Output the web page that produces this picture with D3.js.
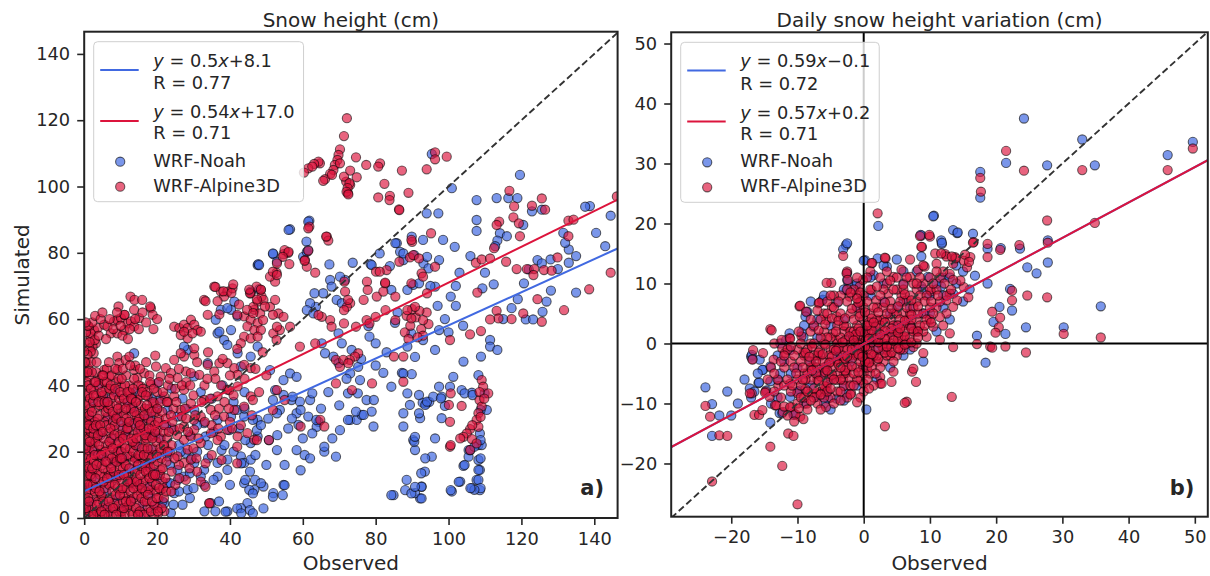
<!DOCTYPE html>
<html><head><meta charset="utf-8">
<script src="https://cdn.jsdelivr.net/npm/d3@7"></script>
<style>body{margin:0;background:#fff}svg{display:block;font-family:"DejaVu Sans",sans-serif}</style>
</head><body><svg id="c" width="1210" height="576"></svg>
<script>
// ---------- Panel a: snow height (cm) ----------
const aNoahMain=[[5.5,34.6],[9.1,30.6],[13.7,28.6],[18.3,30.6],[22.9,32.6],[25.6,30.6],[30.2,32.6],[32.9,28.6],[36.6,29.6],[40.3,30.6],[43.9,30.6],[47.6,29.6],[14.6,21.6],[18.3,20.6],[22.9,18.6],[25.6,14.5],[27.4,12.5],[30.2,16.6],[32.9,14.5],[36.6,16.6],[39.3,17.6],[43,18.6],[45.7,22.6],[47.6,24.6],[22.9,10.5],[24.7,7.5],[28.4,8.5],[32,12.5],[36.6,12.5],[39.3,14.5],[43.9,16.6],[45.7,17.6],[43.9,10.5],[46.7,8.5],[44.8,4.5],[43,3],[39.3,2],[34.8,4.5],[22,4.5],[19.2,3.5],[23.8,1.5],[12.8,5.5],[9.1,12.5],[5.5,18.6],[2.7,26.6],[0.9,21.6],
[36.6,55.7],[30.2,42.7],[33.9,46.7],[42.1,49.7],[45.7,48.7],[47.6,51.7],[13.7,49.7],[20.1,40.7],[28.4,50.7],[27.4,51.7],[38.4,53.7],[37.5,62.8],[40.3,62.8],[42.1,60.8],[39.3,63.3],[41.2,65.3],[36.1,59.8],[37.1,56.2],[47.6,76.3],[45.7,68.3],[48,69],[40.3,56.7],[39.3,52.2],[43,45.7],
[1.5,30],[3,12],[6,8],[8,24],[11,18],[12,35],[15,10],[17,26],[19,14],[20,33],[2,5],[4,40],[7,2],[10,28],[16,4],[21,24],[3,20],[13,15],[18,7],[6,36],[0.5,9],[1,3],[9,6],[14,38],[24,27],[26,22],[29,25],[31,20],[34,22],[27,4],[30,9],[33,2],[35,36],[38,40],[41,35],[44,38],
[61.8,89.7],[56.5,87.1],[51.9,79.6],[47.8,76.6],[60.1,78.8],[61.1,80.3],[67.3,76.5],[73.7,77],[78.6,76.6],[83.9,76],[71.6,71.8],[70.2,72.8],[85.8,82.9],[86.7,80.3],[87.6,77.8],[89.9,84.9],[90.6,79.3],[93.1,76.8],[90.3,70.3],[94.5,75.3],[95.4,109.8],[94,91.9],
[78,57.9],[78.3,54.7],[82.1,43.8],[85.3,58.9],[87.2,43.8],[89.9,43.4],[67.5,71.8],[67.9,69.8],[69.3,65.8],[70.7,64.8],[65.6,67.8],[63.2,67.8],[63.6,63.7],[62,64.8],[61.1,62.7],[62.9,61.7],[65.2,52.7],[66.1,49.7],[69.8,55.7],[70.7,52.7],[68.4,48.7],[69.8,46.7],[73.4,50.7],[73,43.6],[75.2,45.6],[75.7,41.6],[77.5,35.6],[78.9,32.1],[73,29.6],[74.8,29.6],[76.2,31.1],[79.4,27.6],
[54.7,41.6],[51,44.6],[56.5,43.6],[58.3,42.6],[52.4,38.6],[54.7,37.1],[56.9,35.6],[59.2,35.1],[62,35.6],[53.7,32.6],[58.3,31.6],[61.5,30.6],[64.3,29],[63.8,27.5],[58.8,28.1],[56,27],
[46.9,11.5],[49.2,9.5],[51.9,7.5],[54.7,10],[49.2,2.9],[45.5,2.4],[88.5,11.5],[90.8,20.5],[90.3,23.5],[92.6,9.5],[92.2,5.9],[84.9,6.9],[90.8,7.5],[93.5,14],[87.6,31.6],[89.4,34.1],[92.2,30.1],
[119.6,103.5],[100.9,99.5],[97.2,91.9],[107.7,95.9],[113.2,96.5],[116.4,96.5],[118.9,96.5],[122.9,92.5],[125.6,93],[138.8,94.1],[144.5,91.2],[107.7,89.9],[107.7,86.6],[114.1,85.9],[113.4,83.7],[112.8,82],[120.5,88.4],[131.5,86],[133,81],[133,77],[124.4,77.8],[125.6,76.8],[130,75.1],[109.3,69.3],[112.4,70.5],[120.7,70.8],[128.1,68.6],[126.9,65.3],[125.8,62.2],[117.3,63.3],[121.2,59.9],[123.2,59.9],[111.4,53.7],[111.4,51.7],[113.4,50.7],[108.9,48.7],[104.1,47.2],
[101.3,42.6],[100.4,39.6],[103.6,38.6],[106.4,37.8],[108.2,43.1],[98.1,36.6],[99,33.8],[93.8,34.5],[94.7,35],[92.9,34.8],[98.1,30.1],[96.3,24],[95.4,18.5],[92.6,9.4],[92.6,5.9],[105.5,20.5],[108.2,22],[109.1,22],[108.2,17.5],[108.6,14.5],[107.7,11.5],[106.4,9],[104.1,15.7],[103.2,11],[100.9,8],[108.6,8.4],[110.5,32.6],[108.6,25.5],
[56.1,86.9],[61.5,89.4],[61,83.4],[61.5,80.8],[51.8,79.8],[48,76.3],[52.9,77.3],[85.4,82.9],[87.6,79.8],[93,83.9],[94.1,78.8],[97.4,77.8],[98.5,83.9],[101.7,81.8],[81.1,79.8],[78.9,76.3],[84.3,68.8],[88.7,68.8],[91.9,70.8],[96.3,69.8],[89.8,55.7],[93,53.7],[96.3,50.7],[88.7,51.7],[90.8,48.6],[87.6,43.6],[84.3,39.6],[80,52.7],[97.4,56.7],[100.6,66.8],
[38.8,1.9],[42,2.9],[43.1,1.4],[46.3,1.4],[44.2,11.5],[43.1,16.5],[45.3,8.5],[46.3,7.4],[48.5,10.5],[51.8,6.4],[54.5,6.9],[55,9.9],[59.4,14.4],[60.5,19],[65.9,20],[69.1,18.5],[68.1,24],[70.2,26.5],[72.4,29.6],[74.6,32.1],[76.7,31.1],[79.5,35.6],[75.1,37.6],[72.4,37.6],[65.9,21.5],[63.7,29.6],[62.6,25.5],[58.3,20.5],[52.9,20.5],[50.7,23.5],[47.4,26.5],[44.2,23.5],[37.7,20.5],[35.5,11.5],[29,13.5],[25.7,11.5],[23.6,10.5],[27.9,19.5],[33.3,24.6],[39.8,26.5],[46.3,29.6],[52.9,31.6],[59.4,32.6],[62.6,37.6],[57.2,36.6],[51.8,35.6],[42,32.6],
[84.3,6.9],[88.1,8.4],[89.8,7.4],[90.8,9.4],[92.5,13.5],[93.6,18],[90.6,23],[90.8,24.5],[87.6,27.6],[91.9,31.6],[93.6,34.1],[94.1,35.1],[95.8,36.6],[97.9,36.1],[97.4,39.6],[100.6,8.4],[102.8,10.9],[104.4,16],[105.5,18.5],[106,20.5],[107.1,21.5],[108.8,23.5],[108.8,18],[108.2,14.5],[108.2,11.5],[108.8,9],[107.1,8.5],[106,9],[104.4,37.6],[106.6,37.1],[108.8,32.6],[109.9,37.6],[88.7,37.6],[91.9,37.1],
[137.5,93.9],[135,79],[140.5,86],[143,82],[132,83],[128,78],[122,75],[119,66],[115,60],[104,58],[100,56],[97,64],[135,68],[116,85],[103,74],[106,79],[110,74],[102,70],[95,70],[99,60],[102,64]];
const aNoahExtra=[[0.5,1],[1.5,14],[2.5,35],[3.5,9],[4.5,25],[5.5,4],[6.5,30],[7.5,12],[8.5,38],[9.5,20],[10.5,3],[11.5,26],[12.5,11],[13.5,33],[14.5,18],[15.5,1],[16.5,30],[17.5,16],[18.5,36],[19.5,25],[20.5,12],[21.5,5],[22.5,28],[23.5,16],[24.5,4],[26.5,20],[28,33],[29.5,18],[31,28],[33,10],[34,18],[35.5,26],[37,5],[38.5,22],[40,10],[41,20],[42.5,27],[44,33],[45.5,14],[47,19],[48.5,28],[50,16],[50.5,30],[53,25],[55,16],[57,30],[60,24],[62,18],[65,33],[67,38],[70,34],[72,42],[76,48],[80,46],[83,50],[86,62],[21,36],[24,39],[27,36],[32,38],[26,8],[29,6],[36,2],[18,10],[15,27],[8,17]];
const aNoah=aNoahMain.concat(aNoahExtra);

const aAlpMain=[[1.8,54.7],[2.7,56.7],[3.7,57.3],[3.2,52.7],[2.3,51.7],[1.4,51.2],[5.5,58.3],[6.4,57.8],[8.2,59.3],[9.1,59.8],[10.1,60.3],[11,61.3],[11.9,58.7],[12.8,59.3],[13.7,62.8],[13.7,57.8],[15.1,60.3],[18.3,63.3],[18.8,61.3],[7.3,55.7],[9.1,55.7],[11,56.7],[2.6,49.7],[1.8,50.2],[0.9,49.2],[0,50.2],
[24.7,57.7],[26.1,57.3],[27.4,58.3],[28.4,57.3],[29.3,59.8],[30.2,58.3],[31.1,56.7],[32,56.2],[26.5,55.2],[28.4,54.2],[29.7,55.7],[27.4,56.2],
[32.9,65.8],[33.9,61.3],[35.7,69.8],[37.5,68.3],[39.3,68.3],[40.7,69.3],[38.4,66.8],
[43.9,60.8],[45.7,59.8],[47.6,58.8],[44.8,57.8],[46.7,56.7],[43.9,54.7],[43,52.7],[45.7,54.2],[48.5,56.7],[47.6,54.7],[45.7,67.8],[48.5,68.8],[47.6,65.3],[46.7,62.8],
[0,43.2],[1.4,42.7],[4.1,41.7],[5.5,44.7],[6.9,42.7],[9.1,48.7],[9.6,46.7],[9.1,44.7],[11.4,47.7],[12.4,48.7],[13.7,44.7],[14.6,42.2],[15.6,39.7],[16.5,43.7],[18.3,40.2],[19.7,45.7],[21,42.7],[22.4,45.2],[23.8,43.7],[25.6,42.2],[27.9,44.2],[29.3,43.7],[31.6,43.2],[33.9,46.2],[35.7,44.2],[37.1,46.7],[39.3,46.7],[41.2,45.2],[42.1,43.2],[43.9,46.2],[45.7,45.2],
[27.4,48.7],[30.2,49.2],[24.7,47.7],[26.5,49.7],[30.2,51.2],
[0,39.7],[0.9,37.7],[2.7,38.7],[4.6,36.7],[7.3,38.7],[10.1,39.7],[12.8,37.7],[14.6,35.6],[17.4,36.7],[19.2,34.6],[22,36.7],[11,32.6],[15.6,32.1],[5.5,33.6],
[0,30.6],[1.8,29.6],[3.7,27.6],[6.4,30.6],[8.2,26.6],[10.1,24.6],[11.9,28.6],[13.7,22.6],[15.6,26.6],[18.3,24.6],[20.1,26.6],[22,21.6],[0,24.6],[2.3,22.6],[4.6,20.6],[7.3,21.6],[9.1,17.6],[11,16.6],[12.8,18.6],[14.6,14.5],[17.4,16.6],[19.2,12.5],[21,14.5],[0.9,16.6],[2.7,14.5],[5.5,12.5],[7.3,10.5],[10.1,8.5],[12.8,10.5],[15.6,7.5],[18.3,8.5],[1.8,8.5],[4.6,6.5],[8.2,4.5],[11.9,3.5],[14.6,1.5],[0,2.5],[3.7,0.5],[6.4,1.5],[10.1,0.5],[17.4,1.5],[20.1,3],[21,8.5],
[0.5,35],[1,28],[1.5,20],[2,12],[2.5,6],[3,33],[3.5,24],[4,17],[4.5,10],[5,3],[5.5,29],[6,22],[6.5,14],[7,6],[7.5,36],[8,31],[8.5,19],[9,12],[9.5,2],[10,34],[10.5,27],[11,22],[11.5,13],[12,6],[12.5,40],[13,31],[13.5,25],[14,18],[14.5,9],[15,4],[15.5,37],[16,29],[16.5,21],[17,12],[17.5,3],[18,33],[18.5,27],[19,19],[19.5,8],[20,38],[20.5,30],[21,20],[21.5,11],[22,2],[0.3,14],[0.7,41],[1.2,45],[3.3,44],[6.2,45],[8.8,41],[11.5,43],[14,46],[17,47],[19.5,49],[0.2,6],[2.8,1],[5.8,39],[7.8,16],[10.8,7],[12.8,2],[16.2,18],[13.2,34],[4.2,31],[0.4,19],[1.6,33],[6.8,26],
[32,11],[34.3,4.5],[27.4,16.6],[29.3,17.6],[27.4,23.6],[29.3,24.6],[24.7,26.6],[27.4,27.6],[30.2,26.6],[32,22.6],[34.8,25.6],[37.5,24.6],[39.3,26.6],[42.1,24.6],[44.8,25.6],[46.7,23.6],[25.6,18.6],[28.4,20.6],
[32,30.6],[34.8,32.6],[38.4,30.6],[41.2,32.6],[43.9,33.6],[45.7,36.7],[39.3,38.7],[42.1,39.7],[36.6,36.7],[32.9,35.6],[29.3,34.6],[26.5,32.6],[24.7,36.7],[27.4,38.7],
[72.1,120.6],[71.3,115.2],[70.2,111.2],[69.8,109.5],[69.5,108],[68.8,106.5],[68.4,105],[67.5,103.8],[66.1,102.2],[65.6,101.7],[64.7,107],[64.3,107.5],[63.1,106.8],[61.5,105.5],[60.3,104.2],[62.6,106],[68,103.5],[70.2,107],[72.4,98],[73,100.5],[71.9,101.5],[71.3,103],
[74.6,108.8],[73,104.8],[74.8,102.8],[72.8,101],[72.3,99.5],[72,98.4],[72.5,97.6],[77.4,106.5],[81.2,107],[80.7,106],[87.2,104.8],[94,105.2],[82.4,100.8],[80.7,96.7],[83.9,97.2],[83.8,95.9],[89,98.1],[86.4,93.1],
[61.8,87.9],[66.6,84.9],[67,83.7],[54.7,79.6],[56,80],[56.3,76.6],[52.8,74],[52.4,71.3],[51,72.8],[61.5,80.6],[60.6,77.8],[61.1,75.8],[63.4,74],[80.1,74.3],[82.6,70.8],[77.6,71.3],[83,74.8],[71.4,71.3],[71.6,68.3],[89.4,78.6],[90.3,79.3],[92.6,73.8],[90,83.3],
[88,56],[89.5,58],[91,60.5],[92.5,57],[94,62],[90,63],[88.5,61],[93,55],[91.5,54.5],[94.5,58.5],[89,54],[92,62.5],
[77.5,59.7],[73,64.8],[72.1,63.7],[67.5,59.7],[67.9,57.7],[65.2,60.7],[64.3,61.2],[80.3,66.8],[82.1,68.3],[82.6,71],[75.2,49.7],[74.3,48.7],[72.9,47.7],[85,48.7],[87.6,48.7],[63.4,52.7],[59.2,51.7],[69.1,47.7],[70.2,45.6],[71.1,47.7],[72.5,46.7],
[45.5,67.8],[47.3,69.8],[48.7,66.8],[46.4,63.7],[48.3,61.7],[49.2,65.8],[51,63.7],[52.4,65.8],[53.3,61.7],[54.7,60.7],[56.5,57.7],[53.7,56.7],[51.9,55.7],[52.8,53.7],
[96.3,110.3],[96.3,108.2],[99.5,109],[116.7,98.7],[125.6,96.4],[122.9,94.2],[113.9,89.4],[113.2,88.4],[112.5,81.4],[117.8,90.7],[119.3,88.9],[119.6,85],[132.9,89.7],[132.9,85],[129.9,78.6],[126.2,74.8],[128.3,74.6],[118.7,75.1],[121.5,75.1],[123.5,75.1],[123.3,73.3],[115.8,77.3],[107.5,77],[109.1,78],[111.4,78.3],[107.9,68],[144.5,74],[138.6,69],[124.4,66],[131.7,62.7],[120.5,61.7],[117.3,60],[125.6,59.2],[113.2,62.5],[113.7,60.2],[111.4,59.9],[108.9,56.4],[105.9,55.4],[100.4,53.7],[118,94],[126.5,93],[134.3,90],[146.2,97],
[109.1,41.6],[109.5,39.6],[110.9,37.6],[108.5,35.6],[109.1,33.6],[108.2,31.6],[107.7,29.6],[108.2,27.5],[105.9,26.8],[105,25.5],[104.1,24.5],[106.4,23.8],[107.7,22.5],[103.2,24],[105.9,20.5],[108.5,38],[109.8,36],[108.8,30.5],[106.5,28],[100.4,21.5],[103.6,33.8],[100.4,29],[100.6,37.6],[100.1,34.1],[100.6,22],
[61.5,87.4],[66.4,84.9],[55,80.8],[56.1,80.3],[54.5,78.8],[52.9,76.8],[51.8,74.3],[52.9,73.3],[60.5,77.6],[36,69.7],[38.2,68.4],[40.4,67.9],[36.6,65.4],[33.3,65.4],[37.1,61.4],[40.9,70.5],[45.3,68.9],[48.5,68.9],[47.4,65.9],[42.5,64.4],[44.7,62.8],[42,61.3],[46.4,61.8],[49.6,63.8],[49.1,59.7],[51.8,61.3],[52.9,57.7],[9.4,63.8],[12.7,66.8],[13.8,65.8],[15.9,65.8],[18.1,63.8],[11.1,61.3],[1.3,57.7],[1.8,55.7],[2.9,53.7],
[86.5,92.9],[95.2,85.9],[89.8,83.9],[91.9,78.3],[96.3,75.8],[86.5,77.3],[93,72.8],[89.8,70.8],[94.1,67.8],[90.8,63.7],[88.7,62.7],[89.8,60.2],[93,59.7],[85.4,59.7],[82.7,62.7],[80,60.7],[78.3,58.7],[74.6,57.7],[71.3,58.7],[72.4,65.8],[77.8,68.8],[76.7,65.8],[71.3,62.7],[81.1,74.3],[85.4,66.8],
[34.4,4.4],[33.3,9.4],[27.9,11.5],[33.3,16.5],[37.7,17.5],[42,16.5],[47.4,23.5],[50.7,23.5],[51.8,32.6],[55,35.6],[59.4,27.6],[64.8,29.6],[65.9,27.6],[69.1,40.6],[73.5,38.6],[79,40.6],[30.1,29.6],[26.8,30.6],[36.6,23.5],[42,21.5],[46.3,35.6],[39.8,38.6],[52.9,38.6],[20.3,1.4],[19.2,0.5],[87.6,41.1]];
const aAlpDense=[[0.2,1],[0.4,4],[0.6,8],[0.3,11],[0.8,13],[0.5,16],[0.2,18],[0.7,22],[0.3,26],[0.6,29],[0.2,32],[0.8,37],[0.4,44],[0.6,47],[0.1,53],
[1.4,2],[1.1,6],[1.7,10],[1.3,15],[1.9,18],[1.2,24],[1.8,26],[1.4,31],[1.6,36],[1.1,40],[1.9,47],
[2.3,3],[2.9,8],[2.4,10],[2.7,17],[2.2,21],[2.6,25],[2.9,29],[2.4,35],[2.8,41],[2.1,44],
[3.4,2],[3.8,5],[3.2,9],[3.6,14],[3.9,19],[3.1,23],[3.7,30],[3.3,37],[3.8,40],[3.4,47],
[4.3,1],[4.8,7],[4.4,13],[4.9,16],[4.1,22],[4.6,26],[4.3,34],[4.9,43],
[5.2,5],[5.7,9],[5.3,15],[5.8,20],[5.4,24],[5.9,32],[5.1,37],[5.6,41],
[6.4,3],[6.9,10],[6.3,17],[6.7,19],[6.1,28],[6.6,33],[6.2,41],[6.8,47],
[7.3,1],[7.7,8],[7.2,13],[7.6,18],[7.4,24],[7.9,29],[7.1,34],[7.5,43],
[8.3,3],[8.6,7],[8.1,14],[8.7,22],[8.4,28],[8.9,34],[8.2,37],[8.6,45],
[9.4,4],[9.2,9],[9.7,15],[9.3,20],[9.8,25],[9.1,31],[9.6,36],[9.4,42],
[10.3,2],[10.7,5],[10.2,11],[10.6,15],[10.1,20],[10.8,31],[10.4,37],[10.6,45],
[11.2,1],[11.7,9],[11.4,16],[11.8,19],[11.3,25],[11.6,30],[11.9,35],[11.2,40],
[12.3,4],[12.7,8],[12.2,13],[12.6,21],[12.1,27],[12.8,33],[12.4,38],[12.6,46],
[13.3,1],[13.6,6],[13.2,11],[13.8,17],[13.4,20],[13.9,28],[13.1,36],[13.7,42],
[14.2,3],[14.6,7],[14.3,12],[14.8,16],[14.1,22],[14.7,26],[14.4,31],[14.9,40],
[15.3,2],[15.7,6],[15.2,10],[15.9,15],[15.4,19],[15.8,24],[15.1,30],[15.6,34],[15.3,45],
[16.4,1],[16.8,8],[16.2,11],[16.6,16],[16.9,23],[16.3,27],[16.7,33],[16.1,39],
[17.2,5],[17.7,9],[17.4,14],[17.8,19],[17.1,24],[17.6,30],[17.3,38],[17.9,43],
[18.3,2],[18.7,11],[18.2,15],[18.8,21],[18.4,29],[18.9,35],[18.1,41],
[19.3,4],[19.7,10],[19.2,16],[19.8,23],[19.4,28],[19.6,32],[19.1,39],
[20.4,6],[20.8,13],[20.2,17],[20.7,24],[20.3,29],[20.9,35],[20.5,41],
[21.3,3],[21.7,9],[21.2,18],[21.8,26],[21.4,32],[21.6,38],
[22.3,12],[22.6,17],[22.8,24],[22.4,30],[23,40],[23.5,20],[24,14],[24.5,33],[25,10],[25.5,25],
[23,35],[25,39],[26,45],[28,41],[30,37],[31,47],[33,40],[34,50],[35,28],[36,42],[37,33],[38,48],[40,29],[40,43],[41,37],[42,51],[43,28],[44,42],[46,31],[47,45],[48,38],[49,50],[50,43],[22,28],[24,22],[26,16],[28,30],[30,21],[31,14],[35,19],
[0.5,56],[1,58],[1.5,53],[2.2,59],[3,61],[4,55],[4.5,60],[5,62],[6,54],[7,60],[8,57],[9,62],[10,58],[10.5,55],[12,54],[12.5,57],[14,60],[15,57],[16,62],[17,59],[19,57],[20,60],[0.2,47],[0.4,59]];
const aAlpDense2=[[0.5,3],[0.9,10],[0.4,21],[0.9,27],[0.3,34],[0.9,44],[1.3,5],[1.7,13],[1.5,23],[1.3,28],[1.8,39],[2.5,1],[2.2,15],[2.9,19],[2.5,27],[2.1,32],[2.6,37],[3.5,4],[3.1,12],[3.4,16],[3.8,25],[3.2,28],[3.9,35],[3.1,41],[4.7,2],[4.2,8],[4.7,19],[4.4,28],[4.8,38],[5.6,1],[5.3,11],[5.9,17],[5.1,26],[5.6,35],[5.2,43],[6.7,5],[6.3,12],[6.9,23],[6.4,35],[6.9,39],[7.9,3],[7.4,15],[7.8,21],[7.2,27],[7.8,32],[7.3,40],[8.8,1],[8.4,10],[8.9,17],[8.3,25],[8.8,30],[8.5,39],[9.8,7],[9.5,13],[9.9,18],[9.6,23],[9.3,33],[9.9,38],[10.9,3],[10.5,9],[10.9,13],[10.3,18],[10.7,24],[10.2,29],[10.9,36],[10.3,42],[11.5,5],[11.9,11],[11.3,21],[11.8,27],[11.4,33],[11.9,38],[12.8,5],[12.4,15],[12.9,24],[12.3,29],[12.9,36],[13.5,9],[13.9,14],[13.3,23],[13.8,32],[13.4,39],[14.8,1],[14.5,11],[14.9,19],[14.3,24],[14.8,29],[14.2,35],[15.8,9],[15.4,13],[15.9,21],[15.3,28],[15.9,38],[16.6,5],[16.9,14],[16.4,19],[16.8,25],[16.5,31],[16.9,37],[17.5,7],[17.9,12],[17.4,21],[17.8,27],[17.2,34],[18.6,5],[18.9,13],[18.5,18],[18.7,24],[18.5,32],[19.9,6],[19.5,13],[19.9,19],[19.5,26],[20.2,2],[20.6,9],[20.9,21],[20.1,33],[21.9,6],[21.5,15],[21.9,22],[22.5,8],[22.9,20],[23.2,26],[23.8,31]];
const aAlpMid=[[23.4,42],[24.2,29],[25.3,35],[26.2,27],[26.8,40],[27.6,33],[28.5,26],[29.1,40],[30.5,31],[31.4,24],[32.2,35],[33.1,29],[33.8,42],[34.6,36],[35.9,31],[36.8,27],[37.6,40],[38.5,35],[39.7,33],[40.6,27],[24.8,18],[26.1,12],[28.9,15],[30.8,18],[23.9,8],[22.7,35]];
const aAlp=aAlpMain.concat(aAlpDense,aAlpDense2,aAlpMid);
const fitA_noah=[0.5,8.1], fitA_alp=[0.54,17.0], rA=[0.77,0.71];

// ---------- Panel b: daily snow height variation (cm) ----------
const bNoahMain=[[24.2,37.5],[33,34],[45.9,31.4],[49.7,33.6],[21.5,30.1],[27.7,29.7],[34.9,29.7],[17.6,28.6],[17.6,24.3],[10.6,21.3],[14.1,18.4],[16.5,18.3],[11.8,16.6],[18.7,15.8],[20.7,15.9],[23.6,15.8],[27.8,17.2],[27.8,13.5],[26.1,11.7],[24.7,12.7],[16.8,11.3],[18.7,10],[22.1,9.1],[22.4,5.5],[20.5,6.1],[19.6,3.6],[24.5,2.7],[17.1,1.3],[21.4,1.6],[30.2,2.7],[35.8,6.2],[18.4,-3.2],
[2.2,19.6],[-2.7,16.4],[-3.1,15.7],[0.2,13.9],[3.5,12.8],[1.5,11.4],[3,10],[8.7,18],[10.5,21.2],[8.7,14.5],[11.7,17.2],[13.5,18.9],[9.7,11.1],[8.7,9.5],[11.7,9.5],[13.5,8.3],[-2.3,10],[-2.6,8.9],[-8.6,5.2],[-6.3,7.1],[-4,6.8],[-12.6,0],[-11.1,-1.1],[-9.1,1.1],[-7.6,2.8],[-15.7,-2.7],[-17,-2.2],
[-14.7,-7.8],[-15.2,-4.4],[-12.9,-6.1],[-11.1,-8.9],[-9.6,-7.8],[-7.1,-8.9],[-5.6,-8.3],[-4.1,-9.2],[-2.6,-8.3],[0.4,-11],[-12.7,-11.6],[-10.6,-11.6],
[-23.9,-7.3],[-20.6,-8],[-22.9,-10.1],[-21.8,-12],[-22.9,-15.4],[-17.2,-7.5],[-16.5,-8],[-15.9,-6.6],[-14.1,-13.2],[-12.3,-11.6],[-10.6,-11.9],[-5.4,-9.2],[-3,-9.5],
[8.6,18.1],[14.2,18.5],[11.8,16.8],[-2.5,16.7],[-2.5,11.7],[-2.5,10.6],[-1.3,9.5],[0,13.8],[2.1,14.2],[-8.5,5.3],[-8.8,4.5],[-6.2,7.3],[-11.7,0.6],[-11.2,1.7],[-9.4,1.8],[-16.9,-1.9],[-16.8,-2.6],[-15.8,-6.5],[-14.1,-6.3],[-15.3,-4.4],[-14.1,-3.8],[-12.6,-5],
[5,6],[7,3],[9,5],[11,2],[12,6],[6,-2],[4,-4],[2,-6],[-1,-7],[-6,-5],[-8,-3],[-10,-4],[-13,-2],[-7,1],[-5,3],[-3,4],[-1,6],[1,8],[3,7],[6,10],[8,12],[10,8],[12,11],[14,13],[4,2],[-2,-3],[0,2],[2,-1],[-4,-2],[7,-1],[15,12],[13,4],[9,-3]];
const bNoahExtra=[[-13,-9],[-11,-5],[-9,-10],[-8,-7],[-7,-5],[-6,-10],[-5,-6],[-4,-1],[-3,-7],[-2,1],[-1,-1],[0,-4],[1,0],[2,2],[3,-1],[4,5],[5,3],[6,7],[7,6],[8,2],[9,9],[10,5],[11,10],[12,8],[13,11],[14,10],[-10,-8],[-12,-3],[-14,-10],[-9,3],[-7,4],[-5,-11],[-3,9],[-1,10],[1,11],[3,13],[5,14],[6,12],[-16,-5],[-17,-9],[-18,-6],[-19,-10],[-20,-12],[15,7],[16,9],[-6,8],[-8,7]];
const bNoah=bNoahMain.concat(bNoahExtra);

const bAlpMain=[[21.5,32.1],[49.7,32.5],[24.2,28.8],[33,28.9],[45.9,28.9],[17.6,27.6],[17.7,25.3],[27.7,20.5],[34.9,20.1],[10,17.8],[16.6,16.9],[18.7,16.6],[20.6,15.6],[23.5,16.4],[27.8,16.8],[22.4,8.8],[22.4,7.2],[24.7,8],[27.7,7.7],[19.4,5.3],[20.6,4.3],[20.4,2.7],[19.9,1.8],[19.1,-0.5],[17.1,-0.1],[21.4,-0.5],[30.2,1.6],[35.8,1],[24.5,-1.5],[19.4,-0.7],
[15.1,9.4],[15.8,7.7],[14.1,7.2],[13.5,6.1],[12.5,5],[11.5,4.4],[13,8.3],[14.6,10.5],[15.6,12.7],[13,11.6],[11.5,11],[11,13.3],[13.5,13.3],[12.3,14.9],[15.1,13.8],[16.1,14.4],[18.7,14.4],[13.8,14.4],
[2.1,21.7],[8.5,17.9],[9.9,18.1],[16.5,16.8],[8.8,16.1],[10.8,15],[12.5,14.5],[13.9,14.2],[15.3,14.8],[15.9,13.6],[-3.1,14.6],[-4.9,10.1],[-2.5,12],[1.3,13.4],[3.3,14.2],[-9.7,6.2],[-6.8,6.7],[-4.8,6.1],[-14.1,2.4],[-11.2,0.9],[-9.4,1.2],[-12.3,-0.8],[-13.5,0],[-16.8,-2.7],[-14.8,-8],[-16.9,-8.3],
[1.2,13.4],[-2.6,11.7],[-2.4,10.6],[3.2,14.3],[5.7,12.3],[4.5,11.1],[3.5,10],[3.7,8.3],[5.7,8],[7,11.1],[8.2,12.3],[8.7,16.1],[9.2,12.8],[11.7,15],[13.3,14.5],[10.2,8.7],[12.5,7.2],[13.5,10.6],[-5.6,10.1],[-9.6,6.3],[-6.7,6.8],[-8.7,5.3],[-13.9,2.2],[-12.4,0.6],[-11.1,0.8],[-16.7,-1.1],[-15.2,-1.6],[-13.6,-2.7],[-11.9,-1.6],
[-5.6,3.9],[-4.1,4.5],[-4.6,1.7],[-2.6,2.8],[-1.1,6.1],[-2.1,7.8],[-0.6,9.5],[-0.1,10.6],[1.2,8.9],[1.9,7.2],[2.4,3.9],[4.5,5],[6.5,3.9],[8,2.2],[9.5,1.1],[-1.6,1.1],[0.4,2.2],[-4.1,0.6],[-6.6,-1.1],[-9.1,-1.6],[-7.6,-3.8],[-5.6,-3.8],[-3.6,-2.7],[-1.6,-1.6],[-0.1,-3.8],[-2.6,-4.9],[-5.1,-5.5],[1.9,0.6],[3.5,-1.1],[5.5,0.6],[7.5,-0.6],[9,-1.6],[10.5,2.8],[11.5,0.6],[13,1.7],[13.5,-0.6],[6.5,7.2],[4.5,2.2],
[-14.2,-8.9],[-13.4,-10.3],[-12.2,-11.4],[-10.9,-10.6],[-9.6,-12.2],[-8.6,-10],[-8.1,-8.3],[-6.6,-8.1],[-5.6,-7.2],[-4.1,-6.1],[-3.1,-6.1],[-2.1,-5.8],[-0.5,-6.1],[0,-6.7],[6.5,-9.7],[13.3,-8.9],[4.2,-6.4],[4.5,-4.7],[7.3,-4.7],[7.5,-4.2],[2.5,-5.6],[2.5,-6.7],
[-23.9,-10.4],[-23.2,-12.2],[-21.8,-15.3],[-20.6,-15.4],[-17.2,-8.3],[-16.5,-11.9],[-15.8,-11.9],[-15.3,-11.1],[-14.9,-8.2],[-14.1,-17.2],[-12.3,-20.4],[-22.9,-23],[-10,-26.8],[-11.4,-15],[-10.6,-15.4],[-13.2,-10.3],[-12,-10.5],[-11.1,-10.6],[-10.3,-11.8],[-9.1,-12.6],[-12.9,-7.1],[-11.1,-6.7],[-10,-8.3],[-8.8,-7.6],[-7.1,-8.3],[-5.9,-7.6],[-3,-7.1],[-1.9,-8.3],[6.2,-9.9],[3.2,-13.8],[7.9,-6.4],[2.7,-6.7],[-5.7,-10.6],
[-8,-4],[-7,-2],[-6,0],[-5,-1],[-4,-3],[-3,-1],[-2,0],[-1,1],[0,0],[1,-1],[2,1],[3,2],[4,0],[5,2],[6,1],[7,3],[8,4],[9,5],[10,4],[11,6],[12,3],[-10,-6],[-9,-5],[-7,-6],[-6,-4],[-3,-5],[-1,-4],[1,-3],[3,-3],[5,-2],[-8,0],[-6,2],[-4,3],[-2,5],[0,4],[2,6],[4,7],[6,5],[8,7],[10,9],[-1,3],[1,5],[3,4],[5,9],[7,8],[9,10],[-12,-4],[-11,-8],[-9,-9],[-7,-10],[-13,-6],[-14,-4],[-2,-2],[0,-2],[2,-3],[-5,-9],[-3,2],[0,8],[11,9],[12,12],
[-9,-2],[-8,-6],[-7,-4],[-6,-7],[-5,-3],[-4,-5],[-4,0],[-3,-3],[-3,3],[-2,-7],[-2,2],[-1,-2],[-1,-6],[0,-5],[0,1],[0,6],[1,2],[1,-5],[1,3],[2,-2],[2,4],[3,0],[3,6],[4,-2],[4,4],[5,0],[5,5],[6,3],[6,-1],[7,1],[7,5],[8,0],[8,9],[9,2],[10,6],[-6,5],[-5,1],[-8,2],[-10,-1],[-11,-3],[-12,-7],[-10,-10],[-6,-9],[-4,-8],[0,-8],[1,9],[-1,8],[3,9],[6,9],[5,11],[10,11],[11,12],[9,13],[7,14],[-1,11],[1,12]];
const bAlpDense=[[-9.5,-7],[-8.5,-5],[-7.5,-7.5],[-6.5,-5.5],[-5.5,-6.5],[-4.5,-4],[-3.5,-6],[-2.5,-4],[-1.5,-5],[-0.5,-3],[0.5,-4],[1.5,-2],[2.5,-4],[3.5,-2],[4.5,-3],[5.5,-1],[6.5,0],[7.5,2],[8.5,3],[9.5,4],[10.5,5],[11.5,7],[12.5,8],[-9.5,-3],[-8.5,-1],[-7.5,0],[-6.5,-2],[-5.5,1],[-4.5,-1],[-3.5,1],[-2.5,-1],[-1.5,2],[-0.5,0],[0.5,-1],[1.5,1],[2.5,3],[3.5,1],[4.5,3],[5.5,4],[6.5,6],[7.5,6],[8.5,8],[9.5,8],[10.5,10],[-7.5,3],[-6.5,4],[-5.5,5],[-4.5,6],[-3.5,5],[-2.5,7],[-1.5,4],[-0.5,5],[0.5,7],[1.5,6],[2.5,8],[3.5,5],[4.5,9],[5.5,7],[6.5,11],[7.5,10],[8.5,11],[-11.5,-6],[-10.5,-4],[-9.5,-9],[-8.5,-11],[-7.5,-9],[-6.5,-11],[-5.5,-8],[-4.5,-10],[-3.5,-8],[-2.5,-9],[-1.5,-7],[-0.5,-9],[0.5,-6],[1.5,-7],[-12.5,-9],[-13.5,-8],[-11.5,-12],[-10.5,-13],[-1.5,9],[-0.5,7],[0.5,11],[2.5,11],[3.5,12],[-3.5,8],[-2.5,9],[-4.5,8],[-5.5,7],[-6.5,1],[-7.5,-2],[-8.5,-8],[-9.5,0],[-10.5,-2],[-11.5,-1],[-12.5,-3],[-13.5,-5],[-14.5,-6],[-0.3,-1.5],[0.3,0.5],[-0.8,2.5],[0.8,3.5],[-1.2,-0.5],[1.2,0.2],[-0.2,-0.8],[0.2,1.8],[-1.8,-2.5],[1.8,2.8],[-2.8,0.5],[2.8,-0.5],[-3.2,-2],[3.2,3.5],[-0.6,4.5],[0.6,-2.5],[-4.2,2],[4.2,1.5],[-5.2,-2],[5.2,3],[6.2,2],[7.2,4],[8.2,5],[9.2,7],[10.2,7],[11.2,8],[12.2,10],[13.2,9],[-6.2,-3],[-7.2,-5],[-8.2,-3],[-9.2,-4]];
const bAlpDense2=[[-8.8,-6],[-7.8,-4.5],[-6.8,-6.2],[-5.8,-4.8],[-4.8,-5.2],[-3.8,-3.5],[-2.8,-4.5],[-1.8,-3.8],[-0.8,-4.8],[0.2,-3],[1.2,-4],[2.2,-2.5],[3.2,-1.5],[4.2,-0.5],[5.2,0.8],[6.2,1.2],[7.2,2.5],[8.2,2],[-8.8,-1.5],[-7.8,-0.5],[-6.8,-1.5],[-5.8,-0.2],[-4.8,-2.2],[-3.8,-0.8],[-2.8,-2.5],[-1.8,-1],[-0.8,-1.8],[0.2,-0.5],[1.2,-1.8],[2.2,-0.8],[3.2,0.8],[4.2,2.5],[5.2,1.8],[6.2,3.8],[7.2,4.8],[8.2,6.2],[-6.8,2.2],[-5.8,3.2],[-4.8,4.2],[-3.8,3.8],[-2.8,4.2],[-1.8,5.8],[-0.8,6.8],[0.2,5.2],[1.2,4.2],[2.2,5.2],[3.2,6.8],[4.2,5.8],[5.2,6.2],[6.2,8.2],[7.2,7.2],[-1.2,1.5],[1.2,2.2],[-2.2,1.2],[2.2,0.2],[0.8,0.8],[-0.8,-0.2],[-3.2,0.2],[3.2,2.2],[-4.2,-1.2],[4.2,-1.5],[-5.2,-3.2],[5.2,-0.8],[-6.2,-1.8],[6.2,-0.2],[-7.2,-3],[7.2,0.2],[-8.2,-2.2],[8.2,1],[-9.2,-6],[9.2,3],[-10.2,-5],[10.2,3.5],[-0.5,2],[0.5,3],[1.5,3.5],[-1.5,0.5],[-2.5,-2.2],[2.5,1.5],[-3.5,-4],[3.5,-0.5],[-4.5,-6],[4.5,0.5],[-5.5,-4.5],[5.5,2.5],[-0.2,-2.2],[0.8,-3.2],[1.8,-5],[-0.5,8.5],[-1,7.5],[2,9.5],[4,10.5],[6,9.8],[8,10],[-2,8.5],[-3.8,7],[-5,8],[-7,5.5],[-8,4],[-9.8,2],[-11,-0.5],[-12,-2],[-10.8,-7],[-9.8,-10.8],[-8,-9.5],[-6.5,-8.5],[-5,-7.5],[-3.5,-9.5],[-2,-8.5],[-1,-9.8],[0.8,-7.5]];
const bAlp=bAlpMain.concat(bAlpDense,bAlpDense2);
const fitB_noah=[0.59,-0.1], fitB_alp=[0.57,0.2], rB=[0.72,0.71];
// In the reference figure the crimson line of panel b lies exactly on the Noah fit
const drawnB_alp=fitB_noah;

const ticksA=[0,20,40,60,80,100,120,140];
const ticksB=[-20,-10,0,10,20,30,40,50];
const titles=["Snow height (cm)","Daily snow height variation (cm)"];
const seriesNames=["WRF-Noah","WRF-Alpine3D"];
const panelTags=["a)","b)"];

// ---------- drawing ----------
const svg=d3.select("#c");
const TXT="#262626", BLUE="#4169e1", RED="#dc143c";
const R_PT=4.6, OP_N=0.7, OP_A=0.66, EDGE=0.85;
const fmt=d=>d<0?"\u2212"+Math.abs(d):String(d);
const fmtB=b=>b<0?"\u2212"+Math.abs(b).toFixed(1):"+"+b.toFixed(1);

const panels=[
 {box:[84.2,31.7,617.6,518],xd:[0,146.4],yd:[0,146.7],noah:aNoah,alp:aAlp,fits:[fitA_noah,fitA_alp],drawn:[fitA_noah,fitA_alp],r:rA,ticks:ticksA,zero:false,title:titles[0],tag:panelTags[0],ylab:true},
 {box:[671.2,32.3,1207.8,516.7],xd:[-29.07,51.96],yd:[-28.87,51.87],noah:bNoah,alp:bAlp,fits:[fitB_noah,fitB_alp],drawn:[fitB_noah,drawnB_alp],r:rB,ticks:ticksB,zero:true,title:titles[1],tag:panelTags[1],ylab:false}
];

panels.forEach((p,i)=>{
 const [L,T,R,B]=p.box;
 const x=d3.scaleLinear().domain(p.xd).range([L,R]);
 const y=d3.scaleLinear().domain(p.yd).range([B,T]);
 const g=svg.append("g");
 const cid="clip"+i;
 svg.append("defs").append("clipPath").attr("id",cid).append("rect").attr("x",L).attr("y",T).attr("width",R-L).attr("height",B-T);
 const pg=g.append("g").attr("clip-path",`url(#${cid})`);
 const drawPts=(data,col,op)=>pg.append("g").selectAll("circle").data(data).join("circle")
   .attr("cx",d=>x(d[0])).attr("cy",d=>y(d[1])).attr("r",R_PT)
   .attr("fill",col).attr("fill-opacity",op).attr("stroke","#000").attr("stroke-opacity",EDGE*op).attr("stroke-width",1.1);
 drawPts(p.noah,BLUE,OP_N);
 drawPts(p.alp,RED,OP_A);
 const lo=Math.min(p.xd[0],p.yd[0]), hi=Math.max(p.xd[1],p.yd[1]);
 if(p.zero){
   pg.append("line").attr("x1",L).attr("x2",R).attr("y1",y(0)).attr("y2",y(0)).attr("stroke","#000").attr("stroke-width",2);
   pg.append("line").attr("x1",x(0)).attr("x2",x(0)).attr("y1",T).attr("y2",B).attr("stroke","#000").attr("stroke-width",2);
 }
 pg.append("line").attr("x1",x(lo)).attr("y1",y(lo)).attr("x2",x(hi)).attr("y2",y(hi))
   .attr("stroke","#333").attr("stroke-width",1.9).attr("stroke-dasharray","6.8,3.4");
 [BLUE,RED].forEach((c,k)=>{
   const f=p.drawn[k];
   pg.append("line").attr("x1",x(p.xd[0])).attr("y1",y(f[0]*p.xd[0]+f[1])).attr("x2",x(p.xd[1])).attr("y2",y(f[0]*p.xd[1]+f[1]))
     .attr("stroke",c).attr("stroke-width",2);
 });
 const ax=g.append("g").attr("transform",`translate(0,${B})`).call(d3.axisBottom(x).tickValues(p.ticks).tickFormat(fmt).tickSize(7).tickPadding(7).tickSizeOuter(0));
 const ay=g.append("g").attr("transform",`translate(${L},0)`).call(d3.axisLeft(y).tickValues(p.ticks).tickFormat(fmt).tickSize(7).tickPadding(7).tickSizeOuter(0));
 [ax,ay].forEach(a=>{a.select(".domain").remove();a.selectAll("line").attr("stroke",TXT).attr("stroke-width",1.6);
   a.selectAll("text").attr("fill",TXT).style("font-size","17.8px").style("font-family","DejaVu Sans");});
 g.append("rect").attr("x",L).attr("y",T).attr("width",R-L).attr("height",B-T).attr("fill","none").attr("stroke","#222").attr("stroke-width",2);
 const cx=(L+R)/2;
 g.append("text").attr("x",cx).attr("y",26.5).attr("text-anchor","middle").attr("fill",TXT).style("font-size","20px").text(p.title);
 g.append("text").attr("x",cx).attr("y",569.5).attr("text-anchor","middle").attr("fill",TXT).style("font-size","20px").text("Observed");
 if(p.ylab) g.append("text").attr("transform",`translate(28.5,${(T+B)/2}) rotate(-90)`).attr("text-anchor","middle").attr("fill",TXT).style("font-size","20px").text("Simulated");
 g.append("text").attr("x",R-13.5).attr("y",495).attr("text-anchor","end").attr("fill",TXT).style("font-size","21px").style("font-weight","bold").text(p.tag);
 const lg=g.append("g").attr("transform",`translate(${L+9.5},${T+10})`);
 const bx=lg.append("rect").attr("x",0).attr("y",0).attr("height",160).attr("rx",4).attr("fill","#fff").attr("fill-opacity",0.8).attr("stroke","#cfcfcf").attr("stroke-width",1);
 const tx=59.5; const texts=[];
 const eq=(yy,f)=>{const t=lg.append("text").attr("x",tx).attr("y",yy).attr("fill",TXT).style("font-size","17.8px");
   t.append("tspan").style("font-style","italic").text("y");
   t.append("tspan").text(" = "+f[0]);
   t.append("tspan").style("font-style","italic").text("x");
   t.append("tspan").text(fmtB(f[1])); texts.push(t);};
 const rt=(yy,r)=>{const t=lg.append("text").attr("x",tx).attr("y",yy).attr("fill",TXT).style("font-size","17.8px").text("R = "+r.toFixed(2));texts.push(t);};
 eq(25,p.fits[0]); rt(47.6,p.r[0]); eq(76.6,p.fits[1]); rt(97.6,p.r[1]);
 lg.append("line").attr("x1",6.5).attr("x2",45).attr("y1",28.3).attr("y2",28.3).attr("stroke",BLUE).attr("stroke-width",2);
 lg.append("line").attr("x1",6.5).attr("x2",45).attr("y1",79.3).attr("y2",79.3).attr("stroke",RED).attr("stroke-width",2);
 [[BLUE,OP_N,120],[RED,OP_A,145]].forEach((m,k)=>{
   lg.append("circle").attr("cx",26.5).attr("cy",m[2]).attr("r",R_PT).attr("fill",m[0]).attr("fill-opacity",m[1]).attr("stroke","#000").attr("stroke-opacity",EDGE*m[1]).attr("stroke-width",1.1);
   const t=lg.append("text").attr("x",tx).attr("y",m[2]+5).attr("fill",TXT).style("font-size","17.8px").text(seriesNames[k]); texts.push(t);
 });
 const wmax=d3.max(texts,t=>t.node().getComputedTextLength());
 bx.attr("width",tx+wmax+9);
});
</script></body></html>
